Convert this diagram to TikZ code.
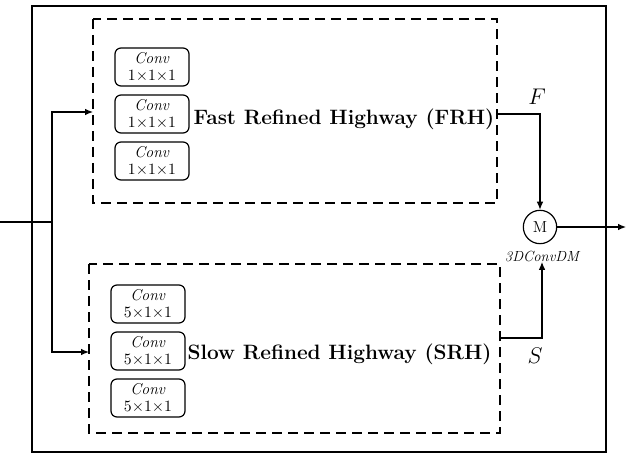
\documentclass[tikz,border=0pt]{standalone}
\usepackage{fix-cm}
\usetikzlibrary{arrows.meta}
\begin{document}
\begin{tikzpicture}[x=0.75pt,y=-0.75pt,
  line width=0.9pt,
  conv/.style={draw,rounded corners=4.5pt,minimum width=55.5pt,minimum height=28.5pt,
    inner sep=1pt,align=center,font=\fontsize{11.8}{13}\selectfont},
  hwy/.style={draw,dashed,dash pattern=on 7.5pt off 4.5pt},
  title/.style={font=\fontsize{15.6}{17}\selectfont\bfseries,inner sep=0pt},
  arr/.style={-{Latex[length=6pt,width=5pt]}}]
\useasboundingbox (0,0) rectangle (635,456);
% outer frame
\draw (32,6) rectangle (606,452);
% highway boxes
\draw[hwy] (93,19) rectangle (497,203);
\draw[hwy] (89,264) rectangle (500,433);
\coordinate (fin) at (93,112);
\coordinate (sin) at (89,352);
% fast branch convolutions
\node[conv] (f1) at (152,67) {\textit{Conv}\\$1{\times}1{\times}1$};
\node[conv] (f2) at (152,114) {\textit{Conv}\\$1{\times}1{\times}1$};
\node[conv] (f3) at (152,161) {\textit{Conv}\\$1{\times}1{\times}1$};
% slow branch convolutions
\node[conv] (s1) at (148,304) {\textit{Conv}\\$5{\times}1{\times}1$};
\node[conv] (s2) at (148,351) {\textit{Conv}\\$5{\times}1{\times}1$};
\node[conv] (s3) at (148,398) {\textit{Conv}\\$5{\times}1{\times}1$};
% titles
\node[title,anchor=west] (frh) at (193,119) {Fast Refined Highway (FRH)};
\node[title,anchor=west] (srh) at (187,354) {Slow Refined Highway (SRH)};
% merge node
\node[draw,circle,minimum size=25pt,inner sep=0pt,font=\fontsize{12}{12}\selectfont] (m) at (540,227) {M};
\node[font=\fontsize{11}{11}\selectfont\itshape,inner sep=0pt] (dm) at (542,256) {3DConvDM};
% input
\coordinate (in) at (0,222);
\coordinate (split) at (52,222);
\draw (in) -- (split);
\draw[arr] (split) |- (fin);
\draw[arr] (split) |- (sin);
% branch outputs
\coordinate (fo) at (497,114);
\coordinate (so) at (500,338);
\draw[arr] (fo) -| (m.north);
\draw[arr] (so) -| (dm.south);
\node[font=\fontsize{17}{17}\selectfont] (fl) at (537,97) {$F$};
\node[font=\fontsize{17}{17}\selectfont] (sl) at (535,356) {$S$};
% output
\coordinate (out) at (626,227);
\draw[arr] (m.east) -- (out);
\end{tikzpicture}
\end{document}
